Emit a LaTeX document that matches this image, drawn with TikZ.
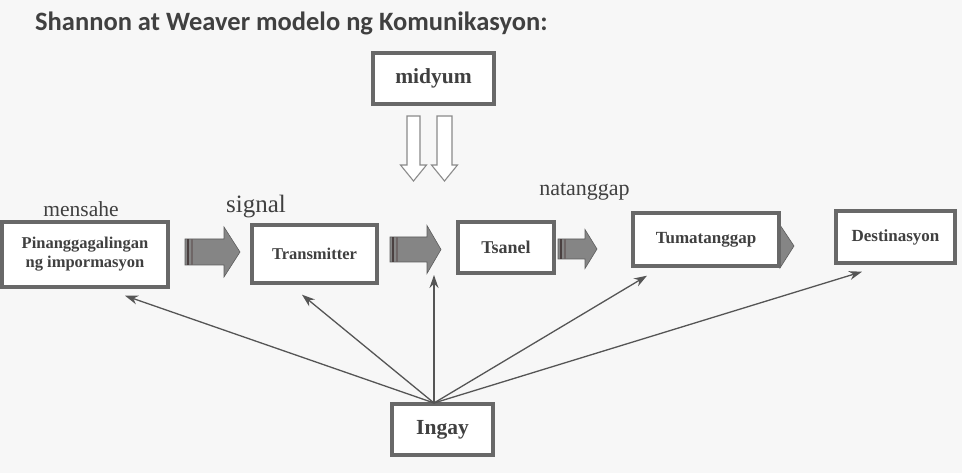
\documentclass[tikz,border=0pt]{standalone}
\usepackage{fontspec}
\setmainfont{Liberation Serif}
\newfontfamily\titlefont{Carlito}
\usetikzlibrary{arrows.meta,calc}
\definecolor{bg}{HTML}{F7F7F7}
\definecolor{boxline}{HTML}{686868}
\definecolor{txt}{HTML}{404040}
\definecolor{conn}{HTML}{555555}
\definecolor{fat}{HTML}{858585}
\definecolor{fatdark}{HTML}{4A4040}
\definecolor{hollow}{HTML}{8A8A8A}
\tikzset{
  box/.style={draw=boxline, line width=3.4pt, fill=white, inner sep=0pt, text=txt,
              font=\bfseries\fontsize{16.5}{19}\selectfont, align=center},
  conn/.style={draw=conn, line width=1.3pt, -{Stealth[length=13pt,width=9pt]}},
  lbl/.style={text=txt, inner sep=0pt, anchor=base},
  fatbody/.style={fill=fat, draw=fat!70!black, line width=0.6pt},
  hollowarrow/.style={fill=white, draw=hollow, line width=1.1pt},
}
% fat arrow: #1 body left x, #2 head base x, #3 tip x, #4 centre y, #5 body half height, #6 head half height
\newcommand{\fatarrow}[6]{%
  \path[fatbody] (#1,#4-#5) -- (#2,#4-#5) -- (#2,#4-#6) -- (#3,#4) -- (#2,#4+#6) -- (#2,#4+#5) -- (#1,#4+#5) -- cycle;
  \fill[fatdark] (#1+1.5,#4-#5) rectangle (#1+4,#4+#5);
  \fill[fatdark!80] (#1+6,#4-#5) rectangle (#1+7.5,#4+#5);
}
% hollow down arrow: #1 centre x, #2 shaft half width, #3 head half width, #4 top y, #5 head base y, #6 tip y
\newcommand{\hollowdown}[6]{%
  \path[hollowarrow] (#1-#2,#4) -- (#1+#2,#4) -- (#1+#2,#5) -- (#1+#3,#5) -- (#1,#6) -- (#1-#3,#5) -- (#1-#2,#5) -- cycle;
}
\begin{document}
\begin{tikzpicture}[x=1pt,y=-1pt]
\fill[bg] (0,0) rectangle (962,473);
\useasboundingbox (0,0) rectangle (962,473);

% title
\node[lbl, anchor=base west, font=\titlefont\bfseries\fontsize{26.5}{30}\selectfont, text=txt] (title) at (35,31) {Shannon at Weaver modelo ng Komunikasyon:};

% fat arrows (drawn before boxes so the last one tucks under its box)
\fatarrow{185}{224}{240}{252}{13}{25}
\fatarrow{390}{427}{441}{249.5}{12.5}{24}
\fatarrow{558}{585}{597}{249}{10}{19.5}
\path[fatbody] (770,234) -- (780,234) -- (780,225) -- (794,246) -- (780,268) -- (780,258) -- (770,258) -- cycle;

% boxes
\node[box, minimum width=166pt, minimum height=65pt] (pin) at (85,254.5) {Pinanggagalingan\\ng impormasyon};
\node[box, minimum width=125pt, minimum height=58pt] (trans) at (314.5,254) {Transmitter};
\node[box, minimum width=96pt, minimum height=51pt, font=\bfseries\fontsize{18}{20}\selectfont] (tsanel) at (506,247.5) {Tsanel};
\node[box, minimum width=146pt, minimum height=53pt, font=\bfseries\fontsize{17}{20}\selectfont] (tuma) at (706,239.5) {Tumatanggap};
\node[box, minimum width=119pt, minimum height=52pt, font=\bfseries\fontsize{17}{20}\selectfont] (dest) at (895.5,237) {Destinasyon};
\node[box, minimum width=121pt, minimum height=51pt, font=\bfseries\fontsize{21.5}{24}\selectfont] (midyum) at (433.5,78.5) {midyum};
\node[box, minimum width=101pt, minimum height=51pt, font=\bfseries\fontsize{21.5}{24}\selectfont] (ingay) at (442.5,429.5) {Ingay};

% hollow arrows below midyum
\hollowdown{413.5}{6.5}{13}{116}{165}{181}
\hollowdown{444.5}{7.5}{13}{116}{165}{181}

% labels
\node[lbl, font=\fontsize{21.5}{24}\selectfont] (mensahe) at (81,217) {mensahe};
\node[lbl, font=\fontsize{25}{28}\selectfont] (signal) at (256,213) {signal};
\node[lbl, font=\fontsize{22}{25}\selectfont] (natanggap) at (584.5,196) {natanggap};

% noise connectors
\coordinate (src) at (434,403);
\coordinate (e1) at ($(pin.south)+(40,7)$);
\coordinate (e2) at ($(trans.south)+(-12.5,10)$);
\coordinate (e3) at (434,275);
\coordinate (e4) at ($(tuma.south)+(-59,8)$);
\coordinate (e5) at ($(dest.south)+(-33.5,7)$);
\draw[conn] (src) -- (e1);
\draw[conn] (src) -- (e2);
\draw[conn] (src) -- (e3);
\draw[conn] (src) -- (e4);
\draw[conn] (src) -- (e5);
\end{tikzpicture}
\end{document}
